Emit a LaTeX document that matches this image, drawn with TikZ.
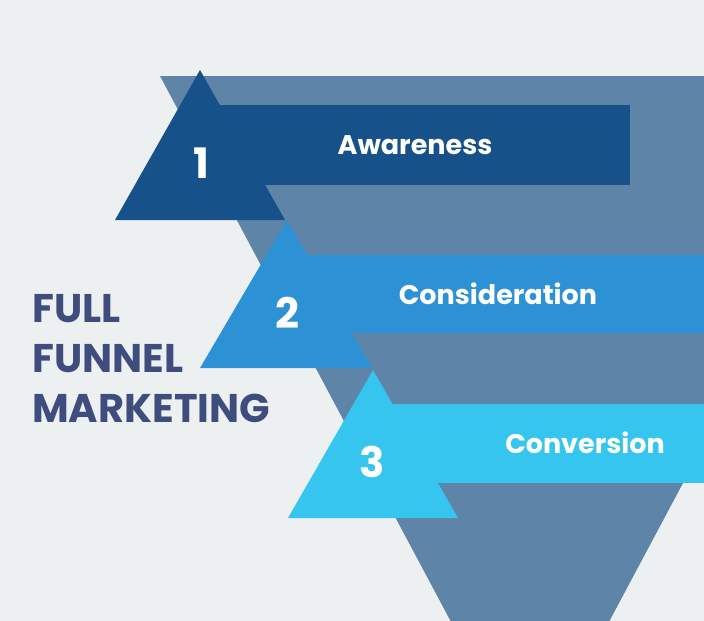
\documentclass[tikz,border=0pt]{standalone}
\usepackage{fontspec}
\setmainfont{Poppins}
\usepackage{xcolor}
\definecolor{bgGray}{HTML}{EDF0F1}
\definecolor{funnelBlue}{HTML}{5E84A8}
\definecolor{stepOne}{HTML}{165289}
\definecolor{stepTwo}{HTML}{2D91D5}
\definecolor{stepThree}{HTML}{36C5EE}
\definecolor{titleInk}{HTML}{3E4C7E}
\tikzset{
  steplabel/.style={text=white, font=\bfseries\fontsize{27}{30}\selectfont, anchor=center},
  stepnum/.style={text=white, font=\bfseries\fontsize{42}{44}\selectfont, anchor=center},
  titleline/.style={text=titleInk, font=\bfseries\fontsize{40}{44}\selectfont, anchor=base west, inner sep=0pt}
}
\begin{document}
\begin{tikzpicture}[x=1pt, y=-1pt]
  \useasboundingbox (0,0) rectangle (704,621);
  \fill[bgGray] (0,0) rectangle (704,621);

  % Funnel
  \begin{scope}
    \clip (0,0) rectangle (704,621);
    \fill[funnelBlue] (160,76) -- (900,76) -- (530,770) -- cycle;
  \end{scope}

  % Step 1
  \fill[stepOne] (200,105) rectangle (630,185);
  \fill[stepOne] (200,70) -- (285,220) -- (115,220) -- cycle;
  \node[stepnum] (num1) at (201,163) {1};
  \node[steplabel] (lab1) at (415,145) {Awareness};

  % Step 2
  \fill[stepTwo] (285,255) rectangle (704,333);
  \fill[stepTwo] (287,220) -- (372,368) -- (200,368) -- cycle;
  \node[stepnum] (num2) at (287,313) {2};
  \node[steplabel] (lab2) at (498,294) {Consideration};

  % Step 3
  \fill[stepThree] (390,404) rectangle (704,483);
  \fill[stepThree] (373,370) -- (458,518) -- (288,518) -- cycle;
  \node[stepnum] (num3) at (372,462) {3};
  \node[steplabel] (lab3) at (585,443) {Conversion};

  % Title
  \node[titleline] (t1) at (32,322) {FULL};
  \node[titleline] (t2) at (32,372) {FUNNEL};
  \node[titleline] (t3) at (32,422) {MARKETING};
\end{tikzpicture}
\end{document}
